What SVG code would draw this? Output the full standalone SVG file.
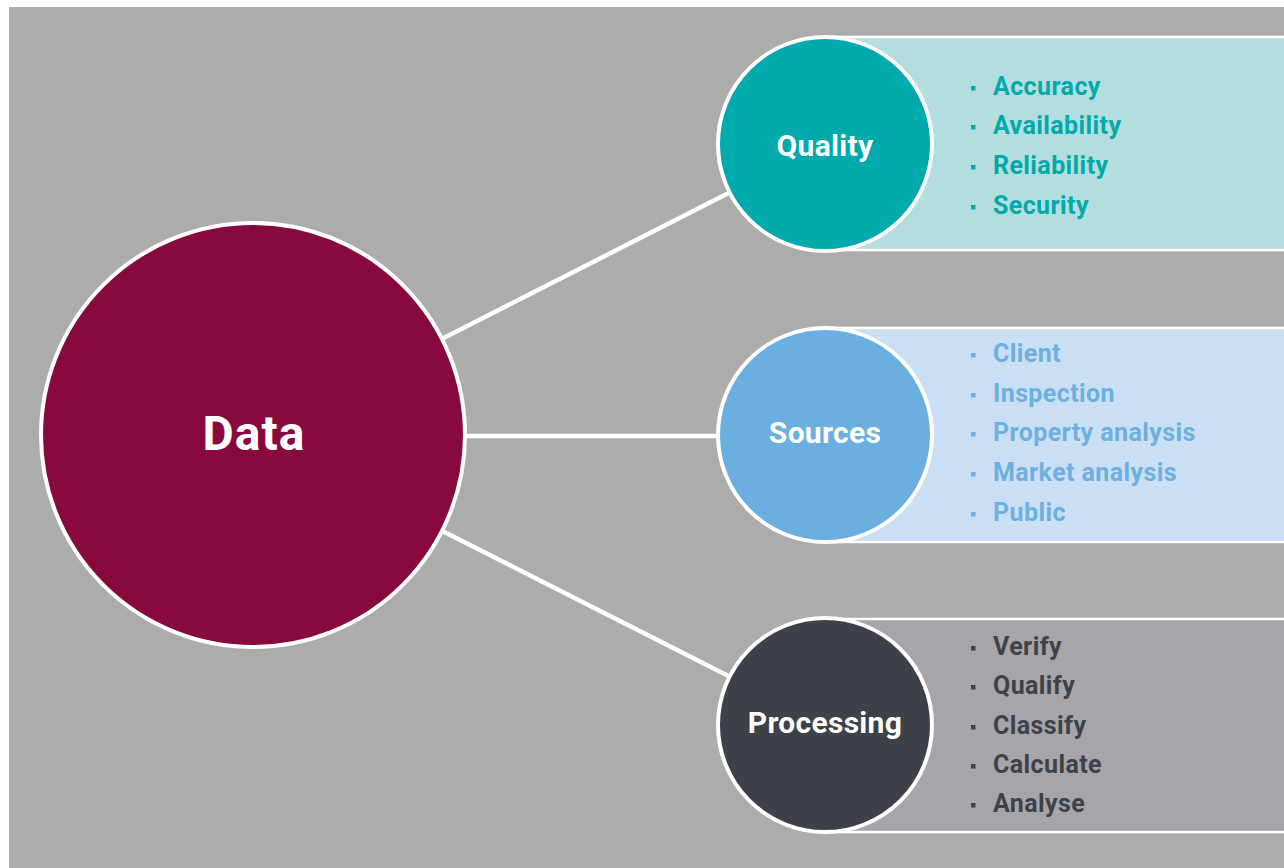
<svg xmlns="http://www.w3.org/2000/svg" width="1284" height="868" viewBox="0 0 1284 868">
<style>
.lbl{font-family:Roboto,"Liberation Sans",sans-serif;font-weight:700;fill:#ffffff;text-anchor:middle;letter-spacing:0.3px}
.item{font-family:Roboto,"Liberation Sans",sans-serif;font-weight:700;font-size:25px;letter-spacing:0.4px}
.ring{stroke:#ffffff;stroke-width:4}
.panel{stroke:#ffffff;stroke-width:2.5}
.conn{stroke:#ffffff;stroke-width:4.5;fill:none}
</style>
<rect x="0" y="0" width="1284" height="868" fill="#ffffff"/>
<rect x="9" y="7" width="1275" height="861" fill="#acacac"/>
<g id="connectors">
<line class="conn" x1="253" y1="435" x2="825" y2="144"/>
<line class="conn" x1="253" y1="436" x2="825" y2="436"/>
<line class="conn" x1="253" y1="435" x2="825" y2="725"/>
</g>
<g id="data">
<circle class="ring" cx="253" cy="435" r="212" fill="#87093e"/>
<text class="lbl" x="254" y="450" font-size="48" style="letter-spacing:1px">Data</text>
</g>
<g id="quality">
<rect class="panel" x="825" y="37" width="470" height="213" fill="#b3dedd"/>
<circle class="ring" cx="825" cy="144" r="107" fill="#00a9ab"/>
<text class="lbl" x="825" y="156" font-size="30">Quality</text>
<g fill="#00a9ab">
<rect x="971" y="86" width="4.5" height="4.5"/>
<rect x="971" y="125" width="4.5" height="4.5"/>
<rect x="971" y="165" width="4.5" height="4.5"/>
<rect x="971" y="205" width="4.5" height="4.5"/>
<text class="item" x="993" y="95">Accuracy</text>
<text class="item" x="993" y="134">Availability</text>
<text class="item" x="993" y="174">Reliability</text>
<text class="item" x="993" y="214">Security</text>
</g>
</g>
<g id="sources">
<rect class="panel" x="825" y="328" width="470" height="214" fill="#cadff3"/>
<circle class="ring" cx="825" cy="435" r="107" fill="#6aafe0"/>
<text class="lbl" x="825" y="443" font-size="30">Sources</text>
<g fill="#6cb0e0">
<rect x="971" y="353" width="4.5" height="4.5"/>
<rect x="971" y="393" width="4.5" height="4.5"/>
<rect x="971" y="432" width="4.5" height="4.5"/>
<rect x="971" y="472" width="4.5" height="4.5"/>
<rect x="971" y="512" width="4.5" height="4.5"/>
<text class="item" x="993" y="362">Client</text>
<text class="item" x="993" y="402">Inspection</text>
<text class="item" x="993" y="441">Property analysis</text>
<text class="item" x="993" y="481">Market analysis</text>
<text class="item" x="993" y="521">Public</text>
</g>
</g>
<g id="processing">
<rect class="panel" x="825" y="619" width="470" height="213" fill="#a7a5a9"/>
<circle class="ring" cx="825" cy="725" r="107" fill="#3d424a"/>
<text class="lbl" x="825" y="733" font-size="30">Processing</text>
<g fill="#3d424a">
<rect x="971" y="646" width="4.5" height="4.5"/>
<rect x="971" y="685" width="4.5" height="4.5"/>
<rect x="971" y="725" width="4.5" height="4.5"/>
<rect x="971" y="764" width="4.5" height="4.5"/>
<rect x="971" y="803" width="4.5" height="4.5"/>
<text class="item" x="993" y="655">Verify</text>
<text class="item" x="993" y="694">Qualify</text>
<text class="item" x="993" y="734">Classify</text>
<text class="item" x="993" y="773">Calculate</text>
<text class="item" x="993" y="812">Analyse</text>
</g>
</g>
</svg>
